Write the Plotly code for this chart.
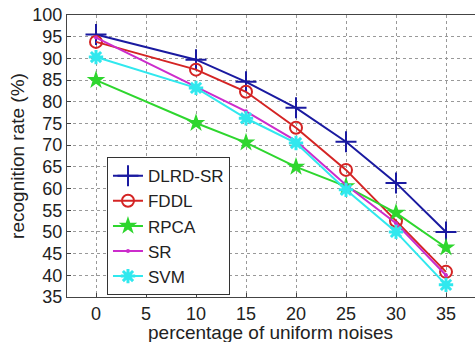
import plotly.graph_objects as go

x = [0, 10, 15, 20, 25, 30, 35]
dlrd_sr = [95.5, 89.7, 84.6, 78.6, 70.8, 61.3, 50.0]
fddl = [93.8, 87.4, 82.3, 74.0, 64.3, 52.5, 40.8]
rpca = [85.0, 75.1, 70.6, 65.0, 60.5, 54.4, 46.4]
sr = [94.8, 83.5, 77.8, 71.0, 60.8, 52.0, 40.0]
svm = [90.3, 83.2, 76.2, 70.5, 59.7, 50.0, 37.8]

x_ticks = [0, 5, 10, 15, 20, 25, 30, 35]
y_ticks = list(range(35, 101, 5))

font = "Liberation Sans, Arial, sans-serif"

fig = go.Figure()
fig.add_trace(go.Scatter(x=x, y=dlrd_sr, name="DLRD-SR", mode="lines+markers",
                         line=dict(color="#1a1aa0", width=2),
                         marker=dict(symbol="cross-thin", size=15, line=dict(color="#1a1aa0", width=2))))
fig.add_trace(go.Scatter(x=x, y=fddl, name="FDDL", mode="lines+markers",
                         line=dict(color="#d42424", width=2),
                         marker=dict(symbol="circle-open", size=12, color="#d42424", line=dict(width=2))))
fig.add_trace(go.Scatter(x=x, y=rpca, name="RPCA", mode="lines+markers",
                         line=dict(color="#2ed62e", width=2),
                         marker=dict(symbol="star", size=14, color="#2ed62e")))
fig.add_trace(go.Scatter(x=x, y=sr, name="SR", mode="lines+markers",
                         line=dict(color="#cc2ccc", width=2),
                         marker=dict(symbol="circle", size=4, color="#cc2ccc")))
fig.add_trace(go.Scatter(x=x, y=svm, name="SVM", mode="lines+markers",
                         line=dict(color="#30e8ee", width=2),
                         marker=dict(symbol="asterisk-open", size=12, line=dict(color="#30e8ee", width=3))))

axis_common = dict(showline=True, linecolor="#444", linewidth=1, mirror=True,
                   showgrid=True, gridcolor="#999", griddash="dot", gridwidth=1,
                   zeroline=False, ticks="inside", ticklen=4, tickcolor="#444",
                   tickfont=dict(family=font, size=18, color="#222"))

fig.update_xaxes(range=[-2.9, 37.9], tickvals=x_ticks, **axis_common)
fig.update_yaxes(range=[35, 100], tickvals=y_ticks, **axis_common,
                 title=dict(text="recognition rate (%)", font=dict(family=font, size=19, color="#222"), standoff=2))

fig.add_annotation(text="percentage of uniform noises", xref="paper", yref="paper",
                   x=0.5 * (147 + 393) / 408 - 67 / 408, y=-0.125,
                   xanchor="center", yanchor="middle", showarrow=False,
                   font=dict(family=font, size=19, color="#222"))

fig.update_layout(
    width=475, height=342,
    margin=dict(l=67, r=0, t=15, b=45),
    paper_bgcolor="white", plot_bgcolor="white",
    showlegend=True,
    legend=dict(x=0.098, y=0.496, xanchor="left", yanchor="top",
                bgcolor="white", bordercolor="#333", borderwidth=1,
                font=dict(family=font, size=17, color="#222"),
                itemwidth=30, tracegroupgap=0),
)

fig.write_html("out.html")
